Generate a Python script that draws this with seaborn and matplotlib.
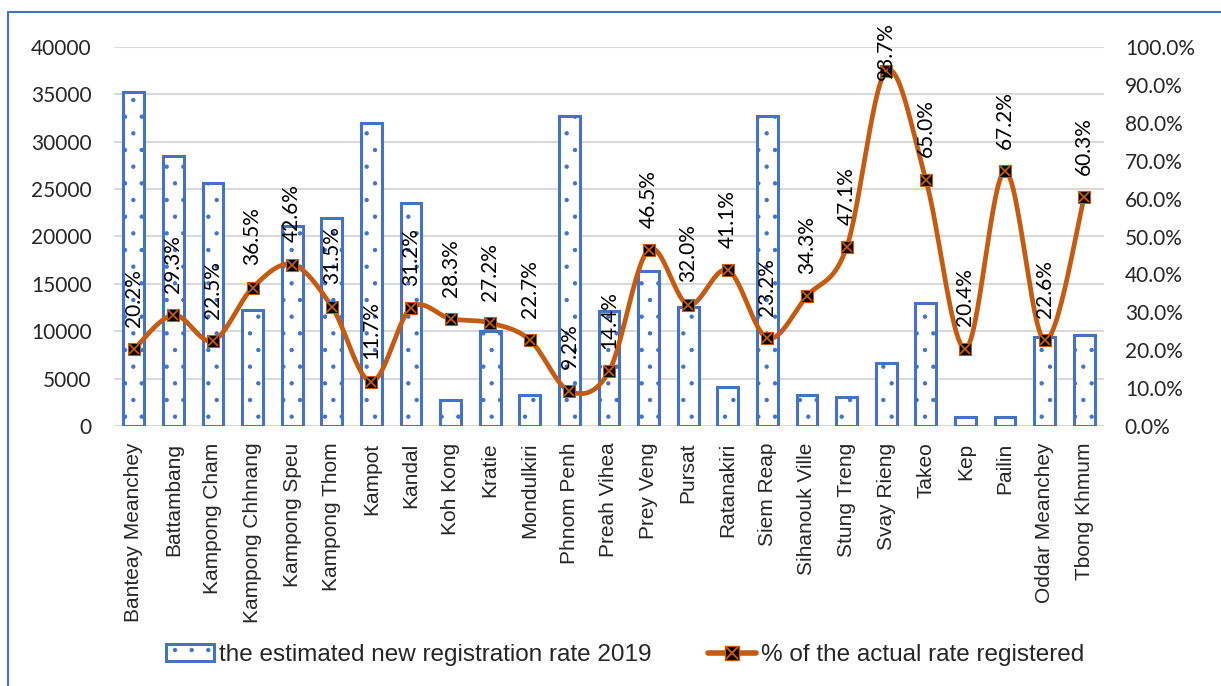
import numpy as np
import matplotlib
matplotlib.use("Agg")
import matplotlib.pyplot as plt
import seaborn as sns
from matplotlib.lines import Line2D
from matplotlib.patches import Patch
from matplotlib.ticker import FuncFormatter, MultipleLocator

provinces = ["Banteay Meanchey", "Battambang", "Kampong Cham", "Kampong Chhnang",
             "Kampong Speu", "Kampong Thom", "Kampot", "Kandal", "Koh Kong", "Kratie",
             "Mondulkiri", "Phnom Penh", "Preah Vihea", "Prey Veng", "Pursat",
             "Ratanakiri", "Siem Reap", "Sihanouk Ville", "Stung Treng", "Svay Rieng",
             "Takeo", "Kep", "Pailin", "Oddar Meanchey", "Tbong Khmum"]
estimated = [35200, 28500, 25600, 12200, 21100, 22000, 32000, 23500, 2750, 10000,
             3270, 32700, 12100, 16400, 12600, 4150, 32700, 3270, 3030, 6700,
             12950, 980, 980, 9350, 9600]
actual_pct = [20.2, 29.3, 22.5, 36.5, 42.6, 31.5, 11.7, 31.2, 28.3, 27.2,
              22.7, 9.2, 14.4, 46.5, 32.0, 41.1, 23.2, 34.3, 47.1, 93.7,
              65.0, 20.4, 67.2, 22.6, 60.3]

BLUE = "#4472C4"
ORANGE = "#C55A11"
GRID = "#D9D9D9"

sns.set_theme(style="white")
plt.rcParams["font.family"] = ["Liberation Sans", "DejaVu Sans"]
plt.rcParams["hatch.linewidth"] = 0.7

fig = plt.figure(figsize=(12.21, 6.86), dpi=100)
ax = fig.add_axes([114 / 1221, 1 - 426 / 686, (1104 - 114) / 1221, (426 - 47) / 686])

sns.barplot(x=provinces, y=estimated, ax=ax, color="white", edgecolor=BLUE,
            linewidth=2.2, width=0.53, saturation=1)
for p in ax.patches:
    p.set_hatch(".")
    p.set_facecolor("white")
    p.set_edgecolor(BLUE)

ax.set_ylim(0, 40000)
ax.set_xlim(-0.5, len(provinces) - 0.5)
ax.yaxis.set_major_locator(MultipleLocator(5000))
ax.grid(axis="y", color=GRID, linewidth=1.5)
ax.set_axisbelow(True)
for s in ax.spines.values():
    s.set_visible(False)
ax.tick_params(axis="both", length=0)
ax.tick_params(axis="x", pad=12)
ax.set_xticks(range(len(provinces)))
ax.set_xticklabels(provinces, rotation=90, fontsize=15, va="top", ha="center")
for lab in ax.get_yticklabels():
    lab.set_fontfamily("Lato")
    lab.set_fontsize(15)
ax.tick_params(axis="y", pad=16)
ax.set_xlabel("")
ax.set_ylabel("")

ax2 = ax.twinx()
ax2.set_ylim(0, 1.0)
ax2.yaxis.set_major_locator(MultipleLocator(0.1))
ax2.yaxis.set_major_formatter(FuncFormatter(lambda v, _: f"{v * 100:.1f}%"))
for s in ax2.spines.values():
    s.set_visible(False)
ax2.tick_params(axis="y", length=0, pad=15)
for lab in ax2.get_yticklabels():
    lab.set_fontfamily("Lato")
    lab.set_fontsize(15)
ax2.grid(False)

# smooth line (Catmull-Rom style bezier as in spreadsheet smoothing)
xs = np.arange(len(provinces), dtype=float)
ys = np.array(actual_pct) / 100.0
pts = np.column_stack([xs, ys])
curve = []
t = np.linspace(0, 1, 30)
for i in range(len(pts) - 1):
    p0 = pts[i - 1] if i > 0 else pts[i]
    p1 = pts[i]
    p2 = pts[i + 1]
    p3 = pts[i + 2] if i + 2 < len(pts) else pts[i + 1]
    c1 = p1 + (p2 - p0) / 6.0
    c2 = p2 - (p3 - p1) / 6.0
    seg = ((1 - t) ** 3)[:, None] * p1 + (3 * (1 - t) ** 2 * t)[:, None] * c1 \
        + (3 * (1 - t) * t ** 2)[:, None] * c2 + (t ** 3)[:, None] * p2
    curve.append(seg)
curve = np.vstack(curve)
ax2.plot(curve[:, 0], curve[:, 1], color=ORANGE, linewidth=3.4, solid_capstyle="round", zorder=3)
ax2.plot(xs, ys, linestyle="none", marker="s", markersize=9, markerfacecolor="black",
         markeredgecolor=ORANGE, markeredgewidth=0.8, zorder=4)
ax2.plot(xs, ys, linestyle="none", marker="x", markersize=7, markeredgecolor=ORANGE,
         markeredgewidth=1.3, zorder=5)

for x, v in zip(xs, actual_pct):
    if v > 85:
        ax2.annotate(f"{v:.1f}%", (x, 1.0), xytext=(0, 18), textcoords="offset points",
                     rotation=90, ha="center", va="top", fontsize=15, family="Lato",
                     color="black", zorder=6)
    else:
        ax2.annotate(f"{v:.1f}%", (x, v / 100.0), xytext=(0, 16), textcoords="offset points",
                     rotation=90, ha="center", va="bottom", fontsize=15, family="Lato",
                     color="black", zorder=6)

# legend
h_bar = Patch(facecolor="white", edgecolor=BLUE, hatch=".", linewidth=2.2)
h_line = Line2D([0], [0], color=ORANGE, linewidth=4, marker="s", markersize=10,
                markerfacecolor="black", markeredgecolor=ORANGE)
h_x = Line2D([0], [0], linestyle="none", marker="x", markersize=8,
             markeredgecolor=ORANGE, markeredgewidth=1.4)
leg = fig.legend([h_bar, (h_line, h_x)],
                 ["the estimated new registration rate 2019", "% of the actual rate registered"],
                 loc="center", bbox_to_anchor=(0.512, 1 - 655 / 686), ncol=2, frameon=False,
                 fontsize=17.5, handlelength=2.0, handletextpad=0.2, columnspacing=2.3)

# chart border
fig.add_artist(Line2D([8 / 1221, 8 / 1221], [0, 1 - 12 / 686], transform=fig.transFigure,
                      color=BLUE, linewidth=1.5))
fig.add_artist(Line2D([8 / 1221, 1], [1 - 12 / 686, 1 - 12 / 686], transform=fig.transFigure,
                      color=BLUE, linewidth=1.5))

fig.savefig("out.png", dpi=100)
